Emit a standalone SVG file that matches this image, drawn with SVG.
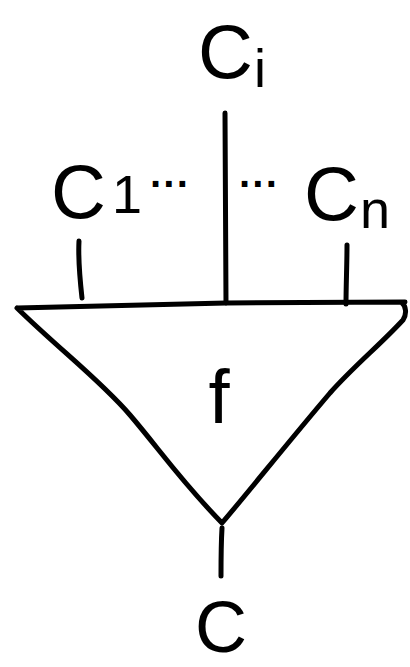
<svg xmlns="http://www.w3.org/2000/svg" width="410" height="667" viewBox="0 0 410 667">
<style>
.ln{fill:none;stroke:#000;stroke-width:5;stroke-linecap:round;stroke-linejoin:round}
.t{font-family:"Liberation Sans",Arial,sans-serif;fill:#000}
.big{font-size:76px}
.sub{font-size:54px}
.dots{font-size:40px;font-weight:bold}
</style>
<rect width="410" height="667" fill="#fff"/>
<g id="connectors">
<path class="ln" d="M225,113 L226,303"/>
<path class="ln" d="M79,241 C78,260 80,280 82,298"/>
<path class="ln" d="M347,245 C347,265 346,285 346,304"/>
<path class="ln" d="M222,528 C221,545 221,560 221,576"/>
</g>
<g id="node-f">
<path class="ln" d="M17,308 L226,303 L405,302 M17,308 C60,350 100,380 130,415 C160,450 180,480 222,523 C250,490 290,440 330,393 C355,365 380,345 403,320 C407,314 406,306 402,303"/>
<text class="t big" x="219" y="423" text-anchor="middle">f</text>
</g>
<g id="node-ci">
<text class="t big" x="198" y="78">C</text>
<text class="t sub" x="254" y="87">i</text>
</g>
<g id="node-c1">
<text class="t big" x="51" y="218">C</text>
<text class="t sub" x="112" y="213">1</text>
<text class="t dots" x="150" y="198">···</text>
</g>
<g id="node-dots">
<text class="t dots" x="239" y="198">···</text>
</g>
<g id="node-cn">
<text class="t big" x="304" y="220">C</text>
<text class="t sub" x="360" y="228">n</text>
</g>
<g id="node-c">
<text class="t" x="195" y="652" font-size="72">C</text>
</g>
</svg>
